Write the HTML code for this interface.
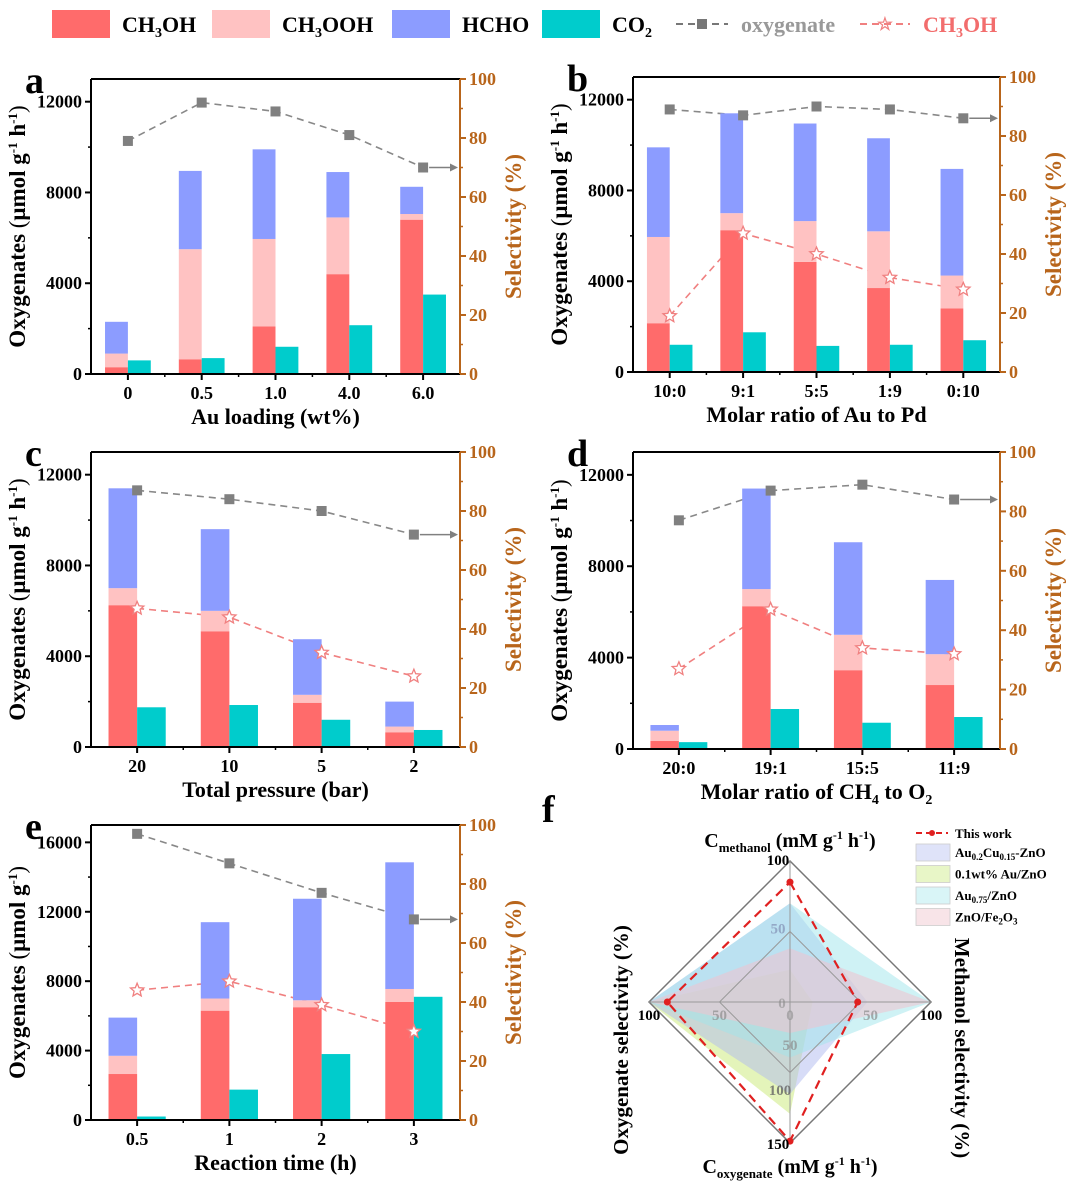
<!DOCTYPE html>
<html><head><meta charset="utf-8">
<style>
html,body{margin:0;padding:0;background:#fff;}
svg{display:block;font-family:"Liberation Serif",serif;font-weight:bold;}
</style></head>
<body>
<svg id="fig" width="1080" height="1192" viewBox="0 0 1080 1192" xmlns="http://www.w3.org/2000/svg">
  <g id="legend">
    <rect x="52" y="10" width="58" height="28" fill="#ff6b6b"/>
    <text x="122" y="32" font-size="22">CH<tspan font-size="14" dy="5">3</tspan><tspan dy="-5">OH</tspan></text>
    <rect x="212" y="10" width="58" height="28" fill="#ffc2c2"/>
    <text x="282" y="32" font-size="22">CH<tspan font-size="14" dy="5">3</tspan><tspan dy="-5">OOH</tspan></text>
    <rect x="392" y="10" width="58" height="28" fill="#8c9cff"/>
    <text x="462" y="32" font-size="22">HCHO</text>
    <rect x="542" y="10" width="58" height="28" fill="#00cccc"/>
    <text x="612" y="32" font-size="22">CO<tspan font-size="14" dy="5">2</tspan></text>
    <line x1="676" y1="24" x2="728" y2="24" stroke="#777" stroke-width="2" stroke-dasharray="7,5"/>
    <rect x="697" y="19" width="10" height="10" fill="#777"/>
    <text x="741" y="32" font-size="22" fill="#999">oxygenate</text>
    <line x1="860" y1="24" x2="910" y2="24" stroke="#f08080" stroke-width="2" stroke-dasharray="7,5"/>
    <text x="885" y="30" font-size="18" fill="#f08080" text-anchor="middle">☆</text>
    <text x="923" y="32" font-size="22" fill="#f26d6d">CH<tspan font-size="14" dy="5">3</tspan><tspan dy="-5">OH</tspan></text>
  </g>
  <g id="panels"></g>
  <g id="radar"></g>
</svg>
<script>
// ---- Data ----
const catsA = ["0","0.5","1.0","4.0","6.0"];
const meohA = [300,650,2100,4400,6800];
const oohA  = [600,4850,3850,2500,250];
const hchoA = [1400,3450,3950,2000,1200];
const co2A  = [600,700,1200,2150,3500];
const oxySelA = [79,92,89,81,70];
const meSelA = null;

const catsB = ["10:0","9:1","5:5","1:9","0:10"];
const meohB = [2150,6250,4850,3700,2800];
const oohB  = [3800,750,1800,2500,1450];
const hchoB = [3950,4400,4300,4100,4700];
const co2B  = [1200,1750,1150,1200,1400];
const oxySelB = [89,87,90,89,86];
const meSelB = [19,47,40,32,28];

const catsC = ["20","10","5","2"];
const meohC = [6250,5100,1950,650];
const oohC  = [750,900,350,250];
const hchoC = [4400,3600,2450,1100];
const co2C  = [1750,1850,1200,750];
const oxySelC = [87,84,80,72];
const meSelC = [47,44,32,24];

const catsD = ["20:0","19:1","15:5","11:9"];
const meohD = [350,6250,3450,2800];
const oohD  = [450,750,1550,1350];
const hchoD = [250,4400,4050,3250];
const co2D  = [300,1750,1150,1400];
const oxySelD = [77,87,89,84];
const meSelD = [27,47,34,32];

const catsE = ["0.5","1","2","3"];
const meohE = [2650,6300,6500,6800];
const oohE  = [1050,700,400,750];
const hchoE = [2200,4400,5850,7300];
const co2E  = [200,1750,3800,7100];
const oxySelE = [97,87,77,68];
const meSelE = [44,47,39,30];

const leftTicksAB = [0,4000,8000,12000];
const leftTicksE = [0,4000,8000,12000,16000];
const rightTicks = [0,20,40,60,80,100];

// radar data: [Cmethanol(0-100), Methanol sel(0-100), Coxygenate(0-150), Oxygenate sel(0-100)]
const radarAxisMax = [100,100,150,100];
const radarNames = ["Au0.2Cu0.15-ZnO","0.1wt% Au/ZnO","Au0.75/ZnO","ZnO/Fe2O3"];
const radarAuCu = [70,55,98,100];
const radarAuZnO = [23,16,119,100];
const radarAu075 = [70,100,59,100];
const radarZnFe = [38,100,33,100];
const radarThisWork = [85,48,148,87];

const NS="http://www.w3.org/2000/svg";
function mk(tag,attrs,parent){const e=document.createElementNS(NS,tag);for(const k in attrs)e.setAttribute(k,attrs[k]);parent.appendChild(e);return e;}
function txt(s,attrs,parent){const e=mk('text',attrs,parent);e.textContent=s;return e;}

const COL={meoh:"#ff6b6b",ooh:"#ffc2c2",hcho:"#8c9cff",co2:"#00cccc",brown:"#b8651b"};

function star(cx,cy,r,parent){
  let p=[];for(let i=0;i<10;i++){const a=-Math.PI/2+i*Math.PI/5;const rr=i%2?r*0.45:r;p.push((cx+rr*Math.cos(a)).toFixed(1)+","+(cy+rr*Math.sin(a)).toFixed(1));}
  return mk('polygon',{points:p.join(" "),fill:"#fff",stroke:"#f08080","stroke-width":1.3},parent);
}

function panel(cfg){
  const root=document.getElementById('panels');
  const g=mk('g',{},root);
  
  
  const {x0,x1,yb,yt,ymax,cats}=cfg;
  const n=cats.length, step=(x1-x0)/n;
  const xc=i=>x0+step*(i+0.5);
  const yL=v=>yb-(v/ymax)*(yb-yt);
  const yR=v=>yb-(v/100)*(yb-yt);
  const bw=step*0.31;
  const drawLine=(vals,color,name)=>{
    if(!vals)return;
    const pts=vals.map((v,i)=>xc(i)+","+yR(v)).join(" ");
    const pl=mk('polyline',{points:pts,fill:"none",stroke:color,"stroke-width":1.6,"stroke-dasharray":"7,5"},g);
    
    
  };
  drawLine(cfg.oxy,"#888","oxygenate-selectivity-line");
  drawLine(cfg.me,"#f08080","methanol-selectivity-line");
  for(let i=0;i<n;i++){
    let base=0;
    [[cfg.meoh[i],COL.meoh,'bar-ch3oh'],[cfg.ooh[i],COL.ooh,'bar-ch3ooh'],[cfg.hcho[i],COL.hcho,'bar-hcho']].forEach(([v,c,nm])=>{
      const r=mk('rect',{x:xc(i)-bw,y:yL(base+v),width:bw,height:yL(base)-yL(base+v),fill:c},g);
      
      
      base+=v;
    });
    const r=mk('rect',{x:xc(i),y:yL(cfg.co2[i]),width:bw,height:yb-yL(cfg.co2[i]),fill:COL.co2},g);
    
    
  }
  if(cfg.oxy){cfg.oxy.forEach((v,i)=>{
    const m=mk('rect',{x:xc(i)-5,y:yR(v)-5,width:10,height:10,fill:"#808080"},g);
    
    
  });
    const lv=cfg.oxy[n-1];
    mk('line',{x1:xc(n-1)+6,y1:yR(lv),x2:x1-6,y2:yR(lv),stroke:"#808080","stroke-width":1.5},g);
    mk('polygon',{points:`${x1-2},${yR(lv)} ${x1-10},${yR(lv)-4} ${x1-10},${yR(lv)+4}`,fill:"#808080"},g);
  }
  if(cfg.me){cfg.me.forEach((v,i)=>{
    const s=star(xc(i),yR(v),7,g);
    
    
  });}
  mk('line',{x1:x0,y1:yt,x2:x1,y2:yt,stroke:"#000","stroke-width":2},g);
  mk('line',{x1:x0,y1:yt,x2:x0,y2:yb,stroke:"#000","stroke-width":2},g);
  mk('line',{x1:x0,y1:yb,x2:x1,y2:yb,stroke:"#000","stroke-width":2},g);
  mk('line',{x1:x1,y1:yt,x2:x1,y2:yb,stroke:COL.brown,"stroke-width":2},g);
  cfg.lticks.forEach((t,k)=>{
    mk('line',{x1:x0-6,y1:yL(t),x2:x0,y2:yL(t),stroke:"#000","stroke-width":2},g);
    const mid=t+(cfg.lticks[1]-cfg.lticks[0])/2; if(mid<ymax) mk('line',{x1:x0-3,y1:yL(mid),x2:x0,y2:yL(mid),stroke:"#000","stroke-width":1.5},g);
    const l=txt(String(t),{x:x0-9,y:yL(t)+6,"font-size":18,"text-anchor":"end"},g);
    
    
  });
  rightTicks.forEach(t=>{
    mk('line',{x1:x1,y1:yR(t),x2:x1+6,y2:yR(t),stroke:COL.brown,"stroke-width":2},g);
    if(t<100) mk('line',{x1:x1,y1:yR(t+10),x2:x1+3,y2:yR(t+10),stroke:COL.brown,"stroke-width":1.5},g);
    const l=txt(String(t),{x:x1+9,y:yR(t)+6,"font-size":18,fill:COL.brown},g);
    
    
  });
  cats.forEach((c,i)=>{
    mk('line',{x1:xc(i),y1:yb,x2:xc(i),y2:yb+6,stroke:"#000","stroke-width":2},g);
    if(i<n-1) mk('line',{x1:xc(i)+step/2,y1:yb,x2:xc(i)+step/2,y2:yb+3,stroke:"#000","stroke-width":1.5},g);
    const l=txt(c,{x:xc(i),y:yb+25,"font-size":18,"text-anchor":"middle"},g);
    
    
  });
  const xt=txt('',{x:(x0+x1)/2,y:yb+50,"font-size":22,"text-anchor":"middle"},g);
  xt.innerHTML=cfg.xtitle;
  
  
  const cy=(yt+yb)/2;
  const lt=txt('',{x:0,y:0,"font-size":23,"text-anchor":"middle",transform:`translate(${x0-66},${cy}) rotate(-90)`},g);
  lt.innerHTML=cfg.ltitle;
  
  
  const rt=txt('Selectivity (%)',{x:0,y:0,"font-size":23,"text-anchor":"middle",fill:COL.brown,transform:`translate(${x1+61},${cy}) rotate(-90)`},g);
  
  
  const lb=txt(cfg.letter,{x:x0-66,y:yt+14,"font-size":38},g);
  
  
}
const LT='Oxygenates <tspan font-weight="normal">(</tspan>μmol g<tspan font-size="13" dy="-8">-1</tspan><tspan dy="8"> h</tspan><tspan font-size="13" dy="-8">-1</tspan><tspan dy="8" font-weight="normal">)</tspan>';
const LTE='Oxygenates <tspan font-weight="normal">(</tspan>μmol g<tspan font-size="13" dy="-8">-1</tspan><tspan dy="8" font-weight="normal">)</tspan>';
panel({letter:'a',x0:91,x1:460,yb:374,yt:79,ymax:13000,cats:catsA,meoh:meohA,ooh:oohA,hcho:hchoA,co2:co2A,oxy:oxySelA,me:meSelA,lticks:leftTicksAB,xtitle:'Au loading (wt%)',ltitle:LT});
panel({letter:'b',x0:633,x1:1000,yb:372,yt:77,ymax:13000,cats:catsB,meoh:meohB,ooh:oohB,hcho:hchoB,co2:co2B,oxy:oxySelB,me:meSelB,lticks:leftTicksAB,xtitle:'Molar ratio of Au to Pd',ltitle:LT});
panel({letter:'c',x0:91,x1:460,yb:747,yt:452,ymax:13000,cats:catsC,meoh:meohC,ooh:oohC,hcho:hchoC,co2:co2C,oxy:oxySelC,me:meSelC,lticks:leftTicksAB,xtitle:'Total pressure (bar)',ltitle:LT});
panel({letter:'d',x0:633,x1:1000,yb:749,yt:452,ymax:13000,cats:catsD,meoh:meohD,ooh:oohD,hcho:hchoD,co2:co2D,oxy:oxySelD,me:meSelD,lticks:leftTicksAB,xtitle:'Molar ratio of CH<tspan font-size="14" dy="5">4</tspan><tspan dy="-5"> to O</tspan><tspan font-size="14" dy="5">2</tspan>',ltitle:LT});
panel({letter:'e',x0:91,x1:460,yb:1120,yt:825,ymax:17000,cats:catsE,meoh:meohE,ooh:oohE,hcho:hchoE,co2:co2E,oxy:oxySelE,me:meSelE,lticks:leftTicksE,xtitle:'Reaction time (h)',ltitle:LTE});

// ---- Radar ----
(function(){
  const g=document.getElementById('radar');
  const cx=790,cy=1002,R=141;
  const dirs=[[0,-1],[1,0],[0,1],[-1,0]];
  const pt=(vals)=>vals.map((v,k)=>{const f=v/radarAxisMax[k];return (cx+dirs[k][0]*R*f).toFixed(1)+","+(cy+dirs[k][1]*R*f).toFixed(1);}).join(" ");
  const series=[[radarAuZnO,"rgba(205,235,130,0.55)","radar-au-zno"],[radarAuCu,"rgba(175,185,240,0.5)","radar-aucu-zno"],[radarAu075,"rgba(160,230,235,0.5)","radar-au075-zno"],[radarZnFe,"rgba(240,195,205,0.55)","radar-zno-fe2o3"]];
  series.forEach(([v,c,nm])=>{
    const p=mk('polygon',{points:pt(v),fill:c,stroke:"none"},g);
    
    
  });
  mk('polygon',{points:`${cx},${cy-R} ${cx+R},${cy} ${cx},${cy+R} ${cx-R},${cy}`,fill:"none",stroke:"#777","stroke-width":1.5},g);
  mk('polygon',{points:`${cx},${cy-R/2} ${cx+R/2},${cy} ${cx},${cy+R/2} ${cx-R/2},${cy}`,fill:"none",stroke:"#999","stroke-width":1},g);
  mk('line',{x1:cx,y1:cy-R,x2:cx,y2:cy+R,stroke:"#999","stroke-width":1},g);
  mk('line',{x1:cx-R,y1:cy,x2:cx+R,y2:cy,stroke:"#999","stroke-width":1},g);
  const tw=mk('polygon',{points:pt(radarThisWork),fill:"none",stroke:"#e02020","stroke-width":2.2,"stroke-dasharray":"9,6"},g);
  
  
  radarThisWork.forEach((v,k)=>{const f=v/radarAxisMax[k];mk('circle',{cx:cx+dirs[k][0]*R*f,cy:cy+dirs[k][1]*R*f,r:3.5,fill:"#e02020"},g);});
  const lab=(s,x,y,a,fill,fs)=>txt(s,{x:x,y:y,"font-size":fs||15,"text-anchor":a||"middle",fill:fill||"#000"},g);
  lab("100",cx-12,cy-R+4,"middle");lab("50",cx-12,cy-R/2+2,"middle","rgba(120,130,170,0.6)");
  lab("0",cx-8,cy+6,"middle","rgba(140,140,140,0.6)");lab("0",cx,cy+18,"middle","rgba(140,140,140,0.6)");
  lab("50",cx+R/2+10,cy+18,"middle","rgba(140,140,140,0.7)");lab("100",cx+R,cy+18,"middle");
  lab("50",cx-R/2,cy+18,"middle","rgba(140,140,140,0.7)");lab("100",cx-R,cy+18,"middle");
  lab("50",cx,cy+48,"middle","rgba(140,140,140,0.7)");lab("100",cx-10,cy+93,"middle","rgba(100,100,100,0.8)");
  lab("150",cx-12,cy+R+6,"middle");
  const t1=txt('',{x:cx,y:cy-R-14,"font-size":20,"text-anchor":"middle"},g);
  t1.innerHTML='C<tspan font-size="13" dy="5">methanol</tspan><tspan dy="-5" font-size="20"> (mM g</tspan><tspan font-size="12" dy="-8">-1</tspan><tspan dy="8" font-size="20"> h</tspan><tspan font-size="12" dy="-8">-1</tspan><tspan dy="8" font-size="20">)</tspan>';
  const t2=txt('',{x:cx,y:cy+R+30,"font-size":20,"text-anchor":"middle"},g);
  t2.innerHTML='C<tspan font-size="13" dy="5">oxygenate</tspan><tspan dy="-5" font-size="20"> (mM g</tspan><tspan font-size="12" dy="-8">-1</tspan><tspan dy="8" font-size="20"> h</tspan><tspan font-size="12" dy="-8">-1</tspan><tspan dy="8" font-size="20">)</tspan>';
  txt('Oxygenate selectivity (%)',{x:0,y:0,"font-size":21,"text-anchor":"middle",transform:`translate(628,${cy+38}) rotate(-90)`},g);
  txt('Methanol selectivity (%)',{x:0,y:0,"font-size":21,"text-anchor":"middle",transform:`translate(955,1048) rotate(90)`},g);
  txt('f',{x:542,y:822,"font-size":38},g);
  const lg=mk('g',{},g);
  
  
  mk('line',{x1:916,y1:833,x2:948,y2:833,stroke:"#e02020","stroke-width":2,"stroke-dasharray":"6,4"},lg);
  mk('circle',{cx:932,cy:833,r:3,fill:"#e02020"},lg);
  txt('This work',{x:955,y:838,"font-size":13},lg);
  const fills=["rgba(175,185,240,0.4)","rgba(205,235,130,0.45)","rgba(160,230,235,0.4)","rgba(240,195,205,0.45)"];
  const names=['Au<tspan font-size="9" dy="3">0.2</tspan><tspan dy="-3">Cu</tspan><tspan font-size="9" dy="3">0.15</tspan><tspan dy="-3">-ZnO</tspan>','0.1wt% Au/ZnO','Au<tspan font-size="9" dy="3">0.75</tspan><tspan dy="-3">/ZnO</tspan>','ZnO/Fe<tspan font-size="9" dy="3">2</tspan><tspan dy="-3">O</tspan><tspan font-size="9" dy="3">3</tspan>'];
  names.forEach((nm,i)=>{
    const y=844+i*21.5;
    mk('rect',{x:916,y:y,width:34,height:17,fill:fills[i],stroke:"#ccc","stroke-width":0.8},lg);
    const t=txt('',{x:955,y:y+13,"font-size":13},lg);t.innerHTML=nm;
  });
})();
</script>
</body></html>
